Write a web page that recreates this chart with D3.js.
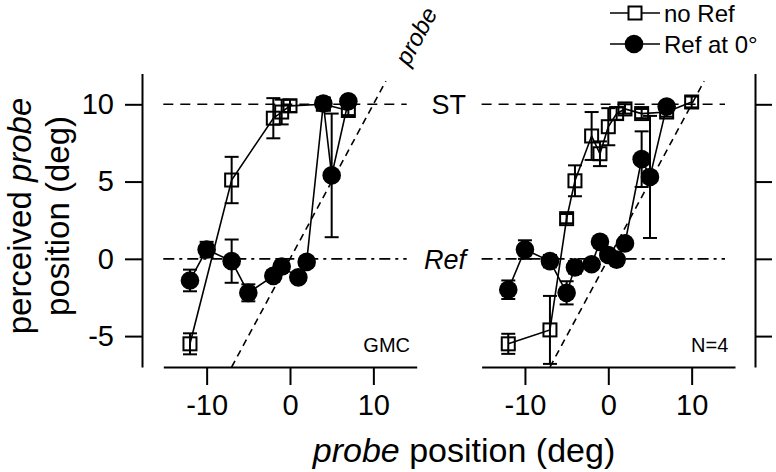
<!DOCTYPE html>
<html><head><meta charset="utf-8">
<script src="https://cdn.jsdelivr.net/npm/d3@7"></script>
<style>
body{margin:0;background:#fff}
svg{display:block}
text{font-family:Arial,"Liberation Sans",Helvetica,sans-serif;fill:#000}
</style>
</head><body>
<svg id="chart" width="776" height="472"></svg>
<script>
// ---------- data ----------
const xTickValues = [-10, 0, 10];
const yTickValues = [-5, 0, 5, 10];
const panelLabels = ["GMC", "N=4"];
const seriesNames = ["no Ref", "Ref at 0°"];

// Panel 1 (GMC)
const gmcNoRefX   = [-12, -7, -2, -1, 0, 4, 7];
const gmcNoRefY   = [-5.5, 5.1, 9.1, 9.5, 9.9, 10.0, 9.6];
const gmcNoRefErr = [0.68, 1.5, 1.3, 0.8, 0.4, 0.35, 0.3];

const gmcRefX   = [-12, -10, -7, -5, -2, -1, 1, 2, 4, 5, 7];
const gmcRefY   = [-1.4, 0.6, -0.15, -2.2, -1.1, -0.5, -1.2, -0.2, 10.05, 5.4, 10.2];
const gmcRefErr = [0.7, 0.5, 1.4, 0.55, 0.3, 0.35, 0.3, 0.3, 0.4, 4.0, 0.3];

// Panel 2 (N=4)
const n4NoRefX   = [-12, -7, -5, -4, -2, -1, 0, 1, 2, 4, 7, 10];
const n4NoRefY   = [-5.5, -4.6, 2.6, 5.05, 7.95, 6.8, 8.55, 9.4, 9.7, 9.4, 9.5, 10.15];
const n4NoRefErr = [0.65, 2.2, 0.3, 1.0, 1.55, 0.8, 1.2, 0.4, 0.3, 0.3, 0.3, 0.35];

const n4RefX   = [-12, -10, -7, -5, -4, -2, -1, 0, 1, 2, 4, 5, 7];
const n4RefY   = [-2.0, 0.6, -0.15, -2.2, -0.55, -0.35, 1.1, 0.25, -0.05, 1.0, 6.45, 5.3, 9.85];
const n4RefErr = [0.6, 0.6, 0.4, 0.75, 0.4, 0.3, 0.3, 0.3, 0.3, 0.3, 1.8, 3.95, 0.3];

const stLevel = 10, refLevel = 0;
const identityRange = [-7, 11.5];
const refLineRange = [-15.2, 14];

// ---------- build ----------
const svg = d3.select("#chart");
const font = 'Arial,"Liberation Sans",Helvetica,sans-serif';
const tickFmt = d => String(d);   // plain hyphen-minus as in the reference

const y = d3.scaleLinear().domain([-7, 12]).range([367, 73.4]);
const xDomain = [-15.2, 15.2];
const xScales = [
  d3.scaleLinear().domain(xDomain).range([163.3, 416.7]),
  d3.scaleLinear().domain(xDomain).range([481.6, 735])
];

const zip = (xs, ys, es) => xs.map((v, i) => ({x: v, y: ys[i], e: es[i]}));
const panelData = [
  {noRef: zip(gmcNoRefX, gmcNoRefY, gmcNoRefErr), ref: zip(gmcRefX, gmcRefY, gmcRefErr)},
  {noRef: zip(n4NoRefX, n4NoRefY, n4NoRefErr), ref: zip(n4RefX, n4RefY, n4RefErr)}
];

function styleAxis(g){
  g.selectAll("path.domain").attr("stroke","#000").attr("stroke-width",2);
  g.selectAll(".tick line").attr("stroke","#000").attr("stroke-width",2);
  g.selectAll(".tick text").attr("font-size",29).attr("font-family",font).attr("fill","#000");
}

// y axes
const yAxisL = svg.append("g").attr("transform","translate(142,0)")
  .call(d3.axisLeft(y).tickValues(yTickValues).tickSize(17).tickSizeOuter(0).tickPadding(11).tickFormat(tickFmt));
styleAxis(yAxisL);
const yAxisR = svg.append("g").attr("transform","translate(755,0)")
  .call(d3.axisRight(y).tickValues(yTickValues).tickSize(17).tickSizeOuter(0).tickFormat(""));
styleAxis(yAxisR);

xScales.forEach((x, pi) => {
  const g = svg.append("g");
  const ax = g.append("g").attr("transform","translate(0,367)")
    .call(d3.axisBottom(x).tickValues(xTickValues).tickSize(18).tickSizeOuter(0).tickPadding(9).tickFormat(tickFmt));
  styleAxis(ax);

  // reference lines
  g.append("line").attr("x1",x(refLineRange[0])).attr("x2",x(refLineRange[1]))
    .attr("y1",y(stLevel)).attr("y2",y(stLevel))
    .attr("stroke","#000").attr("stroke-width",1.6).attr("stroke-dasharray","10,7");
  g.append("line").attr("x1",x(refLineRange[0])).attr("x2",x(refLineRange[1]))
    .attr("y1",y(refLevel)).attr("y2",y(refLevel))
    .attr("stroke","#000").attr("stroke-width",1.6).attr("stroke-dasharray","11,5,3,5");
  // identity line
  g.append("line").attr("x1",x(identityRange[0])).attr("y1",y(identityRange[0]))
    .attr("x2",x(identityRange[1])).attr("y2",y(identityRange[1]))
    .attr("stroke","#000").attr("stroke-width",1.6).attr("stroke-dasharray","7,5");

  const d = panelData[pi];
  const line = d3.line().x(p => x(p.x)).y(p => y(p.y));

  g.append("path").datum(d.noRef).attr("d", line).attr("fill","none").attr("stroke","#000").attr("stroke-width",1.6);
  g.append("path").datum(d.ref).attr("d", line).attr("fill","none").attr("stroke","#000").attr("stroke-width",1.6);

  function errBars(data){
    const eb = g.append("g").attr("stroke","#000").attr("stroke-width",2);
    data.forEach(p => {
      eb.append("line").attr("x1",x(p.x)).attr("x2",x(p.x)).attr("y1",y(p.y - p.e)).attr("y2",y(p.y + p.e));
      [p.y - p.e, p.y + p.e].forEach(v => {
        eb.append("line").attr("x1",x(p.x)-7).attr("x2",x(p.x)+7).attr("y1",y(v)).attr("y2",y(v));
      });
    });
  }
  errBars(d.noRef);
  g.selectAll(null).data(d.noRef).enter().append("rect")
    .attr("x", p => x(p.x) - 6.5).attr("y", p => y(p.y) - 6.5)
    .attr("width",13).attr("height",13)
    .attr("fill","none").attr("stroke","#000").attr("stroke-width",2);
  errBars(d.ref);
  g.selectAll(null).data(d.ref).enter().append("circle")
    .attr("cx", p => x(p.x)).attr("cy", p => y(p.y)).attr("r", 9.3).attr("fill","#000");

  // panel label
  g.append("text").attr("x", x(14.4)).attr("y", 352).attr("text-anchor","end")
    .attr("font-size",20).text(panelLabels[pi]);
});

// ST and Ref labels (right panel, left side)
svg.append("text").attr("x",466).attr("y",y(stLevel)).attr("dy","0.36em").attr("text-anchor","end")
  .attr("font-size",27).text("ST");
svg.append("text").attr("x",466).attr("y",y(refLevel)).attr("dy","0.36em").attr("text-anchor","end")
  .attr("font-size",27).attr("font-style","italic").text("Ref");

// "probe" label along identity line
svg.append("text").attr("transform","translate(416,36) rotate(-61.7)")
  .attr("text-anchor","middle").attr("dy","0.35em")
  .attr("font-size",24).attr("font-style","italic").text("probe");

// axis titles
const xt = svg.append("text").attr("x",464).attr("y",462).attr("text-anchor","middle").attr("font-size",34);
xt.append("tspan").attr("font-style","italic").text("probe");
xt.append("tspan").text(" position (deg)");

const yt1 = svg.append("text").attr("transform","translate(31,216) rotate(-90)").attr("text-anchor","middle").attr("font-size",33);
yt1.append("tspan").text("perceived ");
yt1.append("tspan").attr("font-style","italic").text("probe");
svg.append("text").attr("transform","translate(69,216) rotate(-90)").attr("text-anchor","middle").attr("font-size",33)
  .text("position (deg)");

// legend
const leg = svg.append("g");
[13, 44].forEach((ly, i) => {
  leg.append("line").attr("x1",610).attr("x2",660).attr("y1",ly).attr("y2",ly).attr("stroke","#000").attr("stroke-width",1.6);
  if (i === 0) {
    leg.append("rect").attr("x",628.5).attr("y",ly-6.5).attr("width",13).attr("height",13)
      .attr("fill","#fff").attr("stroke","#000").attr("stroke-width",2);
  } else {
    leg.append("circle").attr("cx",634).attr("cy",ly).attr("r",9.3).attr("fill","#000");
  }
  leg.append("text").attr("x",664).attr("y",ly).attr("dy","0.36em").attr("font-size",24).text(seriesNames[i]);
});
</script>
</body></html>
